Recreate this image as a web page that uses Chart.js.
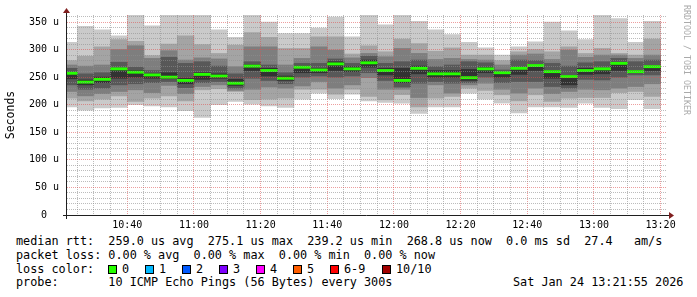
<!DOCTYPE html>
<html>
<head>
<meta charset="utf-8">
<title>smokeping</title>
<script src="https://cdn.jsdelivr.net/npm/chart.js"></script>
<style>
body { margin: 0; background: #fff; }
#wrap { position: relative; width: 697px; height: 297px; overflow: hidden; font-family: "DejaVu Sans Mono", monospace; color: #000; }
#chart { position: absolute; left: 0; top: 0; }
.line { position: absolute; left: 16px; font-size: 11.8px; line-height: 14px; white-space: pre; }
.box { position: absolute; width: 7px; height: 7px; border: 1px solid #000; }
#mark { position: absolute; left: 682px; top: 5px; font-size: 8.3px; line-height: 10px; color: #aaa; writing-mode: vertical-rl; white-space: pre; }
</style>
</head>
<body>
<div id="wrap">
  <canvas id="chart" width="697" height="232"></canvas>
  <div id="mark">RRDTOOL / TOBI OETIKER</div>
  <div class="line" style="top:234px">median rtt:  259.0 us avg  275.1 us max  239.2 us min  268.8 us now  0.0 ms sd  27.4   am/s</div>
  <div class="line" style="top:248px">packet loss: 0.00 % avg  0.00 % max  0.00 % min  0.00 % now</div>
  <div class="line" style="top:262px">loss color:</div>
  <div class="line" style="top:275px">probe:       10 ICMP Echo Pings (56 Bytes) every 300s</div>
  <div class="line" style="top:275px; left:513px">Sat Jan 24 13:21:55 2026</div>
</div>
<script>
// 5 minute steps (start of each step)
const times = ['10:20','10:25','10:30','10:35','10:40','10:45','10:50','10:55','11:00','11:05','11:10','11:15',
               '11:20','11:25','11:30','11:35','11:40','11:45','11:50','11:55','12:00','12:05','12:10','12:15',
               '12:20','12:25','12:30','12:35','12:40','12:45','12:50','12:55','13:00','13:05','13:10','13:15'];

// sorted pings (us), p1 = fastest ... p10 = slowest
const p1  = [196,190,194,195,200,198,196,189,177,200,206,201,198,195,210,221,211,219,207,204,203,184,196,196,221,210,203,185,196,196,195,203,195,193,209,193];
const p2  = [212,207,210,216,206,212,216,207,227,229,224,209,210,212,228,228,219,228,215,209,218,196,212,215,230,226,218,207,218,206,212,213,213,222,224,215];
const p3  = [224,216,220,224,227,222,235,220,233,236,226,228,232,230,234,242,230,236,249,228,228,213,236,221,236,239,228,221,230,220,224,228,227,230,233,238];
const p4  = [236,228,230,236,238,240,242,231,240,242,230,248,244,238,250,252,250,252,258,244,232,239,242,239,240,250,240,242,242,233,230,246,245,250,254,254];
const p5  = [247,236,240,248,250,248,247,238,246,248,235,262,252,244,258,258,262,260,268,254,240,256,250,250,244,258,250,255,262,248,236,255,256,262,258,262];
const p6  = [258,245,250,266,262,256,258,248,258,256,246,272,266,252,270,266,278,269,281,266,266,270,262,262,264,268,258,268,272,262,252,266,266,276,262,270];
const p7  = [266,256,258,277,268,262,286,275,278,270,256,278,272,258,275,275,283,275,288,275,278,281,269,272,278,276,263,281,280,275,270,276,278,284,278,281];
const p8  = [272,270,272,300,307,284,298,281,285,283,269,305,305,272,284,305,299,285,293,287,302,293,282,284,282,281,272,290,292,282,299,286,290,290,284,290];
const p9  = [280,288,305,318,315,289,310,325,309,293,308,331,322,302,302,323,323,292,307,296,319,311,297,303,290,290,280,296,300,296,305,293,302,293,290,319];
const p10 = [313,342,336,325,362,343,362,362,362,336,322,362,350,329,329,339,359,323,362,345,362,351,336,327,313,303,290,305,314,350,334,318,362,356,313,351];
const median = [257,241,246,265,259,254,250,244,255,252,239,270,262,248,268,263,274,265,276,262,244,266,256,256,249,265,258,266,271,260,251,262,265,275,260,269];

const yTicks = [0,10,20,30,40,50,60,70,80,90,100,110,120,130,140,150,160,170,180,190,200,210,220,230,240,250,260,270,280,290,300,310,320,330,340,350,360];
const lossLabels = ['0','1','2','3','4','5','6-9','10/10'];
const lossColors = ['#26ff00','#00b8ff','#0059ff','#7e00ff','#ff00ff','#ff5e00','#ff0000','#a10000'];

// smoke greys, outer band first
const smokeGreys = ['#cacaca','#a4a4a4','#7e7e7e','#585858','#323232'];
const boxX = [108,145,182,219,256,293,330,382];

function toMin(t) {
    const [h, m] = t.split(':').map(Number);
    return h * 60 + m;
}
function fmt(v) {
    const h = Math.floor(v / 60), m = v % 60;
    return String(h).padStart(2, '0') + ':' + String(m).padStart(2, '0');
}

const centers = times.map(t => toMin(t) + 2.5);
const xTicks = times.slice(1).map(toMin).concat([toMin('13:20')]);

const lows = [p1, p2, p3, p4, p5];
const highs = [p10, p9, p8, p7, p6];

const datasets = lows.map((lo, k) => ({
    data: centers.map((x, i) => ({ x: x, y: [lo[i], highs[k][i]] })),
    backgroundColor: smokeGreys[k],
    order: 10 - k
}));
datasets.push({
    data: centers.map((x, i) => ({ x: x, y: [median[i] - 2, median[i] + 2] })),
    backgroundColor: lossColors[0],
    order: 1
});

// loss colour legend boxes
const wrap = document.getElementById('wrap');
lossLabels.forEach((lbl, i) => {
    const b = document.createElement('div');
    b.className = 'box';
    b.style.left = boxX[i] + 'px';
    b.style.top = '265px';
    b.style.background = lossColors[i];
    wrap.appendChild(b);
    const t = document.createElement('div');
    t.className = 'line';
    t.style.left = (boxX[i] + 14) + 'px';
    t.style.top = '262px';
    t.textContent = lbl;
    wrap.appendChild(t);
});

const axesPlugin = {
    id: 'rrdAxes',
    afterDraw(chart) {
        const { ctx, chartArea: a } = chart;
        ctx.save();
        ctx.strokeStyle = '#1f1f1f';
        ctx.lineWidth = 1;
        ctx.beginPath();
        ctx.moveTo(a.left - 4, a.bottom + 0.5);
        ctx.lineTo(a.right + 3, a.bottom + 0.5);
        ctx.moveTo(a.left - 0.5, a.bottom + 4);
        ctx.lineTo(a.left - 0.5, a.top - 3);
        ctx.stroke();
        ctx.fillStyle = '#801f1f';
        ctx.beginPath();
        ctx.moveTo(a.right + 2, a.bottom - 3);
        ctx.lineTo(a.right + 7, a.bottom + 0.5);
        ctx.lineTo(a.right + 2, a.bottom + 4);
        ctx.fill();
        ctx.beginPath();
        ctx.moveTo(a.left - 4, a.top - 2);
        ctx.lineTo(a.left - 0.5, a.top - 7);
        ctx.lineTo(a.left + 3, a.top - 2);
        ctx.fill();
        ctx.restore();
    }
};

new Chart(document.getElementById('chart'), {
    type: 'bar',
    data: { datasets: datasets },
    plugins: [axesPlugin],
    options: {
        responsive: false,
        animation: false,
        devicePixelRatio: 1,
        layout: { padding: { left: 0, right: 30, top: 15, bottom: 0 } },
        datasets: {
            bar: { grouped: false, barPercentage: 1, categoryPercentage: 1, borderWidth: 0, clip: 0 }
        },
        plugins: { legend: { display: false }, tooltip: { enabled: false } },
        scales: {
            x: {
                type: 'linear',
                min: 621.92,
                max: 801.92,
                offset: false,
                afterBuildTicks: axis => { axis.ticks = xTicks.map(v => ({ value: v })); },
                afterFit: axis => { axis.height = 17; },
                ticks: {
                    autoSkip: false,
                    maxRotation: 0,
                    padding: 4,
                    color: '#000',
                    font: { family: 'DejaVu Sans Mono', size: 10 },
                    callback: v => (v % 20 === 0 ? fmt(v) : '')
                },
                grid: {
                    offset: false,
                    drawTicks: false,
                    z: 1,
                    color: ctx => (ctx.tick && ctx.tick.value % 20 === 0) ? 'rgba(222,79,79,0.55)' : 'rgba(143,143,143,0.6)'
                },
                border: { display: false, dash: [1, 1] }
            },
            y: {
                min: 0,
                max: 362.7,
                afterBuildTicks: axis => { axis.ticks = yTicks.map(v => ({ value: v })); },
                afterFit: axis => { axis.width = 67; },
                title: {
                    display: true,
                    text: 'Seconds',
                    color: '#000',
                    padding: { top: 4, bottom: 0 },
                    font: { family: 'DejaVu Sans Mono', size: 11.5 }
                },
                ticks: {
                    autoSkip: false,
                    padding: 8,
                    color: '#000',
                    font: { family: 'DejaVu Sans Mono', size: 10 },
                    callback: v => (v % 50 !== 0 ? '' : (v === 0 ? '0  ' : v + ' u'))
                },
                grid: {
                    drawTicks: false,
                    z: 1,
                    color: ctx => (ctx.tick && ctx.tick.value % 50 === 0) ? 'rgba(222,79,79,0.55)' : 'rgba(143,143,143,0.6)'
                },
                border: { display: false, dash: [1, 1] }
            }
        }
    }
});
</script>
</body>
</html>
